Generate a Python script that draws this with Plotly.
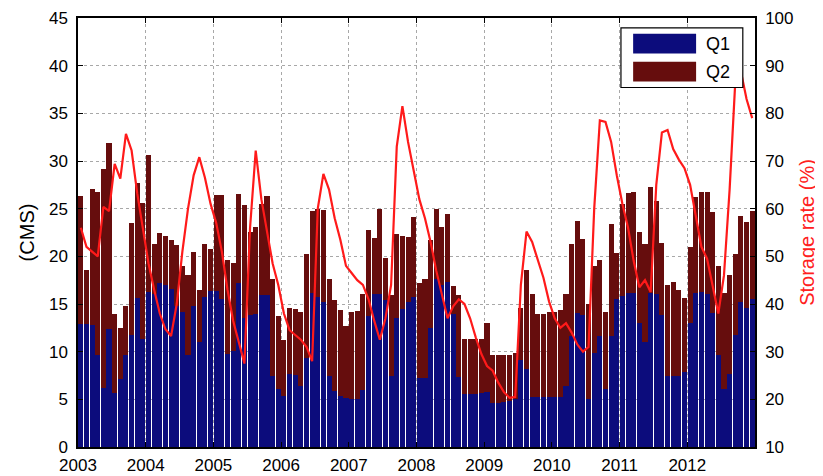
import plotly.graph_objects as go

years = list(range(2003, 2013))

# monthly Q1 (CMS), one list per year
q1_by_year = [
    [12.9, 12.9, 12.8, 9.7, 6.2, 12.4, 5.7, 7.1, 9.6, 11.8, 15.6, 11.3],
    [16.3, 16.1, 17.2, 17.0, 16.6, 14.8, 14.2, 9.6, 14.8, 11.0, 15.7, 16.4],
    [16.4, 15.5, 9.8, 10.1, 17.2, 13.5, 13.8, 13.9, 15.9, 15.9, 7.5, 6.1],
    [5.3, 7.7, 7.6, 6.4, 9.3, 16.2, 15.7, 15.2, 7.4, 5.9, 5.4, 5.1],
    [5.0, 5.0, 6.0, 13.7, 16.0, 16.1, 15.4, 7.5, 13.5, 14.5, 15.2, 15.7],
    [7.2, 7.2, 12.5, 17.6, 17.0, 17.3, 14.0, 7.3, 5.6, 5.6, 5.6, 5.7],
    [5.8, 4.6, 4.6, 4.7, 4.8, 5.0, 9.1, 8.2, 5.2, 5.2, 5.2, 5.2],
    [5.2, 5.2, 6.4, 11.6, 14.1, 13.8, 5.0, 9.9, 11.6, 6.1, 11.6, 15.5],
    [15.8, 16.2, 16.2, 13.0, 11.0, 16.2, 16.0, 13.8, 7.4, 7.4, 7.4, 7.9],
    [13.0, 16.2, 16.3, 16.0, 14.1, 9.6, 6.1, 7.7, 11.7, 15.2, 14.6, 15.5],
]

# monthly Q2 (CMS), stacked on Q1
q2_by_year = [
    [13.4, 5.7, 14.3, 17.1, 23.0, 19.5, 8.3, 5.4, 5.2, 11.7, 12.1, 14.3],
    [14.3, 5.2, 5.2, 5.1, 5.1, 6.4, 4.8, 8.4, 5.7, 5.5, 5.6, 4.4],
    [10.0, 10.9, 9.8, 9.2, 9.3, 11.9, 8.8, 9.2, 9.6, 10.4, 10.1, 7.6],
    [5.9, 6.9, 6.9, 7.8, 10.9, 8.6, 9.3, 9.7, 10.2, 9.5, 9.0, 7.6],
    [9.2, 9.3, 10.0, 9.1, 5.9, 8.9, 4.4, 8.4, 8.8, 7.6, 6.8, 8.4],
    [10.0, 10.4, 9.2, 7.4, 6.1, 7.1, 2.9, 8.6, 5.7, 5.7, 5.7, 5.6],
    [7.2, 5.0, 5.1, 4.9, 4.8, 4.9, 5.5, 10.4, 10.8, 8.7, 8.8, 9.0],
    [9.0, 9.2, 9.6, 9.7, 9.6, 8.0, 10.0, 9.1, 8.0, 8.1, 11.8, 4.9],
    [9.7, 10.4, 10.5, 9.6, 10.3, 11.1, 9.8, 7.6, 9.6, 9.9, 9.1, 7.7],
    [8.0, 10.0, 10.4, 10.7, 10.6, 9.4, 10.1, 10.3, 8.5, 9.0, 9.0, 9.3],
]

# monthly storage rate (%)
rate_by_year = [
    [56, 52, 51, 50, 60.4, 59.5, 69.4, 66.3, 75.7, 72.2, 63.2, 55.5],
    [48.5, 43, 38, 34.7, 33.3, 40, 51, 60, 67, 70.8, 66.5, 61],
    [57, 51, 43, 36.5, 32, 27.5, 56, 72.2, 62, 55.5, 48.5, 44],
    [38, 34.5, 33.5, 32.5, 31, 28, 60, 67.3, 64, 58, 53.5, 48],
    [46.5, 45, 44, 41, 36.5, 32.5, 37, 44, 73, 81.5, 74, 68],
    [62, 58, 53, 47, 42, 37, 39.5, 41, 40, 37, 33, 29.5],
    [27, 26, 23.5, 21.5, 20.3, 20.5, 44, 55.2, 53, 49, 45.5, 40.5],
    [37, 35, 36, 34, 31.5, 30, 31, 60, 78.5, 78.2, 74, 67],
    [61, 56, 49, 43.5, 45, 42.5, 65, 76, 76.5, 72.5, 70.3, 68.5],
    [65, 58.5, 52, 49.5, 44, 38, 46, 64, 86.5, 88.8, 83, 79],
]

series_names = ["Q1", "Q2"]
series_colors = ["#0c0c7c", "#660d0d"]

x = [y + (m + 0.5) / 12 for y in years for m in range(12)]
q1 = [v for row in q1_by_year for v in row]
q2 = [v for row in q2_by_year for v in row]
rate = [v for row in rate_by_year for v in row]

font = "Liberation Sans, Arial, sans-serif"

fig = go.Figure()
for name, vals, col in zip(series_names, [q1, q2], series_colors):
    fig.add_trace(go.Bar(x=x, y=vals, name=name, width=1 / 12 * 0.9, showlegend=False,
                         marker=dict(color=col, line=dict(width=0))))
fig.add_trace(go.Scatter(x=x, y=rate, yaxis="y2", mode="lines", showlegend=False,
                         line=dict(color="#ff1a1a", width=2.2)))

axis_common = dict(showline=True, linecolor="black", linewidth=1.5, ticks="inside",
                   ticklen=5, tickcolor="black", tickfont=dict(size=17, color="black"),
                   zeroline=False, automargin=False)

# matlab-style legend box with wide swatches
fig.add_shape(type="rect", xref="paper", yref="paper", x0=0.802, x1=0.982, y0=0.838, y1=0.977,
              line=dict(color="black", width=1.2), fillcolor="white", layer="above")
for i, (name, col) in enumerate(zip(series_names, series_colors)):
    yc = 0.940 - i * 0.065
    fig.add_shape(type="rect", xref="paper", yref="paper", x0=0.820, x1=0.913,
                  y0=yc - 0.023, y1=yc + 0.023, line=dict(color=col, width=0),
                  fillcolor=col, layer="above")
    fig.add_annotation(x=0.925, y=yc, xref="paper", yref="paper", text=name, showarrow=False,
                       xanchor="left", yanchor="middle", font=dict(size=18, color="black"))

fig.update_layout(
    width=823, height=476,
    margin=dict(l=70, r=76, t=10, b=37),
    plot_bgcolor="white", paper_bgcolor="white",
    barmode="stack", bargap=0,
    font=dict(family=font, size=17, color="black"),
    xaxis=dict(range=[2003, 2013], tickvals=years, ticktext=[str(y) for y in years],
               mirror="ticks", showgrid=True, gridcolor="#a8a8a8", griddash="dot",
               gridwidth=1, ticklabelstandoff=2, **axis_common),
    yaxis=dict(range=[0, 45], dtick=5, mirror="ticks", showgrid=True, gridcolor="#a8a8a8",
               griddash="dot", gridwidth=1, ticklabelstandoff=5,
               title=dict(text="(CMS)", font=dict(size=20), standoff=9), **axis_common),
    yaxis2=dict(range=[10, 100], dtick=10, overlaying="y", side="right", showgrid=False,
                ticklabelstandoff=5,
                title=dict(text="Storage rate (%)", font=dict(size=20, color="#ff2020"), standoff=7),
                **axis_common),
)

fig.write_html("out.html")
